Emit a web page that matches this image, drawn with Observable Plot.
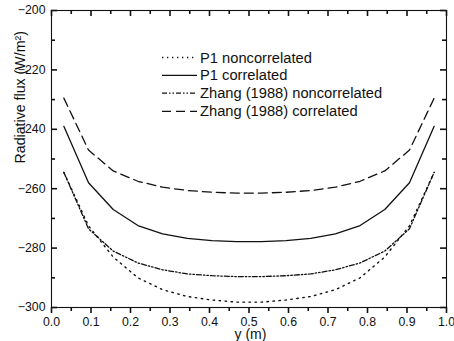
<!DOCTYPE html>
<html>
<head>
<meta charset="utf-8">
<script src="https://cdn.jsdelivr.net/npm/d3@7"></script>
<script src="https://cdn.jsdelivr.net/npm/@observablehq/plot@0.6"></script>
<style>
  html, body { margin: 0; padding: 0; background: #fff; color: #111; overflow: hidden; }
  #chart { width: 454px; height: 341px; }
</style>
</head>
<body>
<div id="chart"></div>
<script>
// ---- data ----
const yPos = [0.03125, 0.09375, 0.15625, 0.21875, 0.28125, 0.34375, 0.40625, 0.46875,
              0.53125, 0.59375, 0.65625, 0.71875, 0.78125, 0.84375, 0.90625, 0.96875];
const p1Noncorrelated = [-254.5, -272.5, -283, -290, -294, -296.3, -297.5, -298.2,
                         -298.2, -297.5, -296.3, -294, -290, -283, -272.5, -254.5];
const p1Correlated = [-239, -258, -267, -272.4, -275.2, -276.7, -277.5, -277.8,
                      -277.8, -277.5, -276.7, -275.2, -272.4, -267, -258, -239];
const zhangNoncorrelated = [-254.5, -273.5, -281, -285, -287.3, -288.7, -289.3, -289.6,
                            -289.6, -289.3, -288.7, -287.3, -285, -281, -273.5, -254.5];
const zhangCorrelated = [-229.5, -247, -254, -257.5, -259.5, -260.6, -261.2, -261.5,
                         -261.5, -261.2, -260.6, -259.5, -257.5, -254, -247, -229.5];
const seriesNames = ["P1 noncorrelated", "P1 correlated", "Zhang (1988) noncorrelated", "Zhang (1988) correlated"];
const xTicks = [0, 0.1, 0.2, 0.3, 0.4, 0.5, 0.6, 0.7, 0.8, 0.9, 1.0];
const xMinorTicks = [0.05, 0.15, 0.25, 0.35, 0.45, 0.55, 0.65, 0.75, 0.85, 0.95];
const yTicks = [-300, -280, -260, -240, -220, -200];
const yMinorTicks = [-290, -270, -250, -230, -210];
const xTitle = "y (m)";
const yTitle = "Radiative flux (W/m²)";

// ---- styles ----
const styles = [
  {strokeDasharray: "1.5,4.5", strokeWidth: 1.4},
  {strokeWidth: 1.3},
  {strokeDasharray: "5,2,1.5,2,1.5,2", strokeWidth: 1.3},
  {strokeDasharray: "9,5", strokeWidth: 1.3}
];
const allSeries = [p1Noncorrelated, p1Correlated, zhangNoncorrelated, zhangCorrelated];
const tables = allSeries.map(vals => yPos.map((x, i) => ({x, v: vals[i]})));

const W = 454, H = 341, mL = 51, mR = 8, mT = 10, mB = 34;
const fw = W - mL - mR, fh = H - mT - mB;
const font = "'Liberation Sans', Arial, sans-serif";
const tw = 1.6; // tick stroke width
const tc = "#111";

const svg = Plot.plot({
  width: W, height: H,
  marginLeft: mL, marginRight: mR, marginTop: mT, marginBottom: mB,
  x: {domain: [0, 1], axis: null},
  y: {domain: [-300, -200], axis: null},
  marks: [
    ...tables.map((t, i) => Plot.line(t, {x: "x", y: "v", ...styles[i]})),
    Plot.frame({strokeWidth: 1.1}),
    // bottom axis (outward ticks)
    Plot.axisX(xTicks, {anchor: "bottom", tickSize: 6, tickPadding: 4, stroke: tc, strokeWidth: tw, tickFormat: d => d.toFixed(1), fontSize: 12.3, label: null}),
    Plot.axisX(xMinorTicks, {anchor: "bottom", tickSize: 4, stroke: tc, strokeWidth: tw, tickFormat: () => "", label: null}),
    // top ticks (inward)
    Plot.tickX(xTicks, {x: d => d, insetBottom: fh - 6, stroke: tc, strokeWidth: tw}),
    Plot.tickX(xMinorTicks, {x: d => d, insetBottom: fh - 4, stroke: tc, strokeWidth: tw}),
    // left axis labels + inward ticks
    Plot.axisY(yTicks, {anchor: "left", tickSize: 0, tickPadding: 6, fontSize: 12.3, label: null}),
    Plot.tickY(yTicks, {y: d => d, insetRight: fw - 6, stroke: tc, strokeWidth: tw}),
    Plot.tickY(yMinorTicks, {y: d => d, insetRight: fw - 4, stroke: tc, strokeWidth: tw}),
    // right inward ticks
    Plot.tickY(yTicks, {y: d => d, insetLeft: fw - 6, stroke: tc, strokeWidth: tw}),
    Plot.tickY(yMinorTicks, {y: d => d, insetLeft: fw - 4, stroke: tc, strokeWidth: tw}),
    // titles
    Plot.text([xTitle], {text: d => d, frameAnchor: "bottom", dx: 1.5, dy: 31, lineAnchor: "bottom", fontSize: 14}),
    Plot.text([yTitle], {text: d => d, frameAnchor: "left", rotate: -90, dx: -27, dy: 4.5, lineAnchor: "bottom", fontSize: 14.2})
  ]
});
d3.select(svg).attr("font-family", font);

// ---- legend inside the plot ----
const lg = d3.select(svg).append("g")
  .attr("font-family", font)
  .attr("font-size", 14.7)
  .attr("text-anchor", "start")
  .attr("fill", "currentColor");
const rowY = [57.5, 75.3, 93.2, 111.3];
seriesNames.forEach((name, i) => {
  lg.append("line")
    .attr("x1", 162).attr("x2", 197)
    .attr("y1", rowY[i]).attr("y2", rowY[i])
    .attr("stroke", "currentColor")
    .attr("stroke-width", styles[i].strokeWidth)
    .attr("stroke-dasharray", i === 0 ? "1.3,3.7" : (styles[i].strokeDasharray || null));
  lg.append("text")
    .attr("x", 200).attr("y", rowY[i]).attr("dy", "0.35em")
    .text(name);
});

document.getElementById("chart").appendChild(svg);
</script>
</body>
</html>
